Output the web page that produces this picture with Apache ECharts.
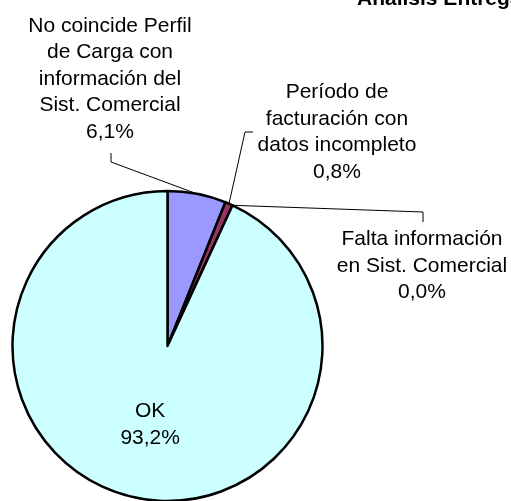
<!DOCTYPE html>
<html><head><meta charset="utf-8">
<script src="https://cdn.jsdelivr.net/npm/echarts@6/dist/echarts.min.js"></script>
<style>html,body{margin:0;padding:0;background:#fff}#c{width:511px;height:501px}</style>
</head><body><div id="c"></div>
<script>
const titleText = 'Análisis Entregas';
const categories = [
  'No coincide Perfil\nde Carga con\ninformación del\nSist. Comercial',
  'Período de\nfacturación con\ndatos incompleto',
  'Falta información\nen Sist. Comercial',
  'OK'
];
const values = [6.1, 0.8, 0.0, 93.2];
const colors = ['#9999FF', '#993366', '#FFFFCC', '#CCFFFF'];

// label placement (layout only)
const labelCenters = [[110, 79], [337, 132], [422, 266], null];
const labelLineBends = [[[111, 162], [111, 153]], [[245, 132], [253, 132]], [[423, 212], [423, 222]], null];

const font = 'Liberation Sans, Arial, sans-serif';
const chart = echarts.init(document.getElementById('c'), null, {renderer: 'canvas'});
chart.setOption({
  animation: false,
  backgroundColor: '#fff',
  title: {
    text: titleText, left: 357, top: -11, padding: 0,
    textStyle: {fontSize: 21, fontWeight: 'bold', fontFamily: font, color: '#000'}
  },
  series: [{
    type: 'pie',
    center: [167.5, 346],
    radius: 155,
    startAngle: 90,
    clockwise: true,
    avoidLabelOverlap: false,
    itemStyle: {borderColor: '#000', borderWidth: 2.5},
    label: {
      show: true, position: 'outside', color: '#000', fontSize: 21, lineHeight: 26.5,
      fontFamily: font, align: 'center',
      formatter: p => p.name + '\n' + p.value.toFixed(1).replace('.', ',') + '%'
    },
    labelLine: {show: true, lineStyle: {color: '#000', width: 1}},
    labelLayout: function (params) {
      const i = params.dataIndex;
      if (!labelCenters[i]) return {};
      const pts = params.labelLinePoints;
      const start = pts ? pts[0] : labelLineBends[i][0];
      return {
        x: labelCenters[i][0], y: labelCenters[i][1],
        align: 'center', verticalAlign: 'middle',
        labelLinePoints: [start, labelLineBends[i][0], labelLineBends[i][1]]
      };
    },
    data: categories.map((c, i) => ({
      name: c, value: values[i],
      itemStyle: {color: colors[i]},
      label: c === 'OK' ? {position: 'inside'} : undefined
    }))
  }]
});
</script></body></html>
